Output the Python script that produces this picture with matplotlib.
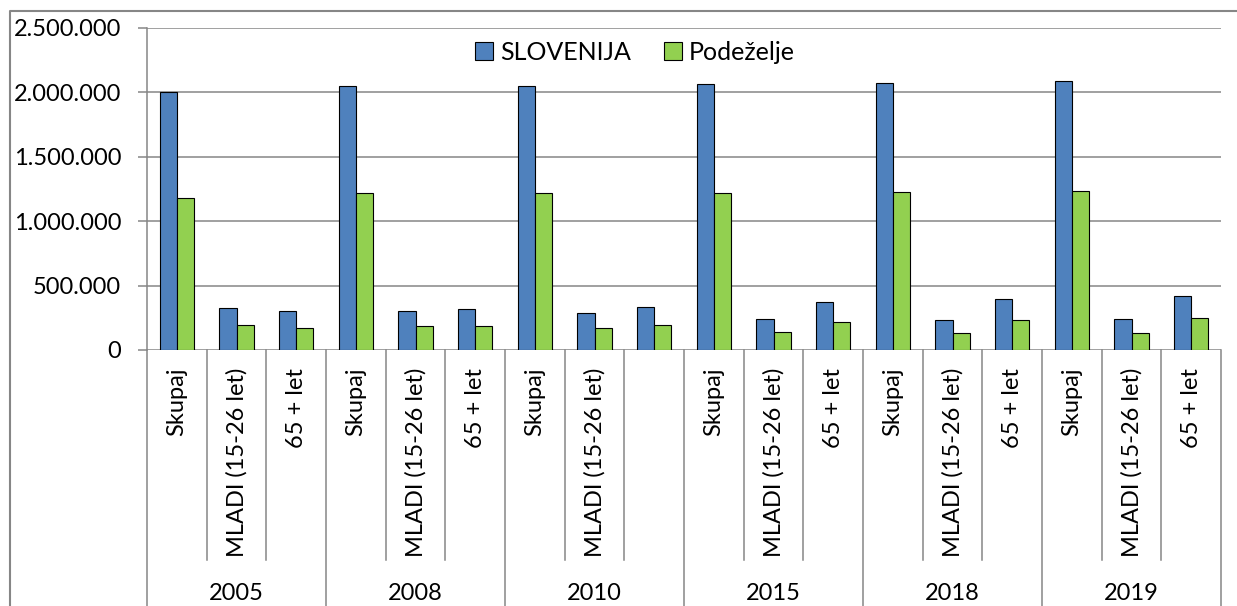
import matplotlib
matplotlib.use('Agg')
import matplotlib.pyplot as plt
from matplotlib.patches import Patch
from matplotlib.lines import Line2D
from matplotlib.ticker import FuncFormatter
import matplotlib.transforms as mtransforms

plt.rcParams['font.family'] = ['Lato', 'DejaVu Sans']

# Data
years = ['2005', '2008', '2010', '2015', '2018', '2019']
cat_labels = ['Skupaj', 'MLADI (15-26 let)', '65 + let',
              'Skupaj', 'MLADI (15-26 let)', '65 + let',
              'Skupaj', 'MLADI (15-26 let)', '',
              'Skupaj', 'MLADI (15-26 let)', '65 + let',
              'Skupaj', 'MLADI (15-26 let)', '65 + let',
              'Skupaj', 'MLADI (15-26 let)', '65 + let']
slovenija = [2000000, 324000, 303000, 2050000, 305000, 321000,
             2050000, 290000, 336000, 2063000, 243000, 375000,
             2073000, 233000, 396000, 2091000, 238000, 422000]
podezelje = [1178000, 194000, 173000, 1216000, 186000, 188000,
             1216000, 168000, 194000, 1221000, 137000, 220000,
             1227000, 134500, 230500, 1234500, 134500, 246000]

W, H = 1237, 606
fig = plt.figure(figsize=(W / 100, H / 100), dpi=100)
ax_l, ax_r, ax_t, ax_b = 147, 1221, 28, 350
ax = fig.add_axes([ax_l / W, 1 - ax_b / H, (ax_r - ax_l) / W, (ax_b - ax_t) / H])

grid_c = '#868686'
blue = '#4F81BD'
green = '#92D050'
fs = 17

n = len(cat_labels)
x = list(range(n))
bw = 0.29
ax.bar([i - bw / 2 for i in x], slovenija, bw, color=blue, edgecolor='black', linewidth=0.8, zorder=3)
ax.bar([i + bw / 2 for i in x], podezelje, bw, color=green, edgecolor='black', linewidth=0.8, zorder=3)

ax.set_xlim(-0.5, n - 0.5)
ax.set_ylim(0, 2500000)
ax.set_yticks([0, 500000, 1000000, 1500000, 2000000, 2500000])
ax.yaxis.set_major_formatter(FuncFormatter(lambda v, p: '{:,.0f}'.format(v).replace(',', '.')))
ax.grid(axis='y', color=grid_c, linewidth=1.1, zorder=0)
ax.tick_params(axis='y', length=6.5, width=1.1, color=grid_c, pad=12, labelsize=fs)
ax.set_xticks([])
for s in ['top', 'right', 'bottom']:
    ax.spines[s].set_visible(False)
ax.spines['left'].set_color(grid_c)
ax.spines['left'].set_linewidth(1.1)

# multi-level category axis below the plot
trans = mtransforms.blended_transform_factory(ax.transData, ax.transAxes)
ah = ax_b - ax_t
def yfr(py):
    return (ax_b - py) / ah

for k in range(n + 1):
    xb = k - 0.5
    bottom = yfr(H + 2) if k % 3 == 0 else yfr(560)
    ax.plot([xb, xb], [0, bottom], transform=trans, color=grid_c, linewidth=1.1, clip_on=False)

for i, lab in enumerate(cat_labels):
    ax.text(i, yfr(368), lab, transform=trans, rotation=90, rotation_mode='anchor',
            ha='right', va='center', fontsize=fs)

for j, yr in enumerate(years):
    ax.text(3 * j + 1, yfr(594), yr, transform=trans, ha='center', va='center', fontsize=fs)

# outer chart border (only left and top visible)
fig.add_artist(Line2D([10 / W, 10 / W, 1.0], [0, 1 - 11 / H, 1 - 11 / H], transform=fig.transFigure,
                      color=grid_c, linewidth=1.5))

handles = [Patch(facecolor=blue, edgecolor='black', linewidth=0.8, label='SLOVENIJA'),
           Patch(facecolor=green, edgecolor='black', linewidth=0.8, label='Podeželje')]
fig.legend(handles=handles, loc='center', bbox_to_anchor=(635 / W, 1 - 52 / H), ncol=2,
           frameon=False, fontsize=18, handlelength=0.72, handleheight=0.72,
           handletextpad=0.3, columnspacing=1.3)

fig.savefig('out.png', dpi=100)
